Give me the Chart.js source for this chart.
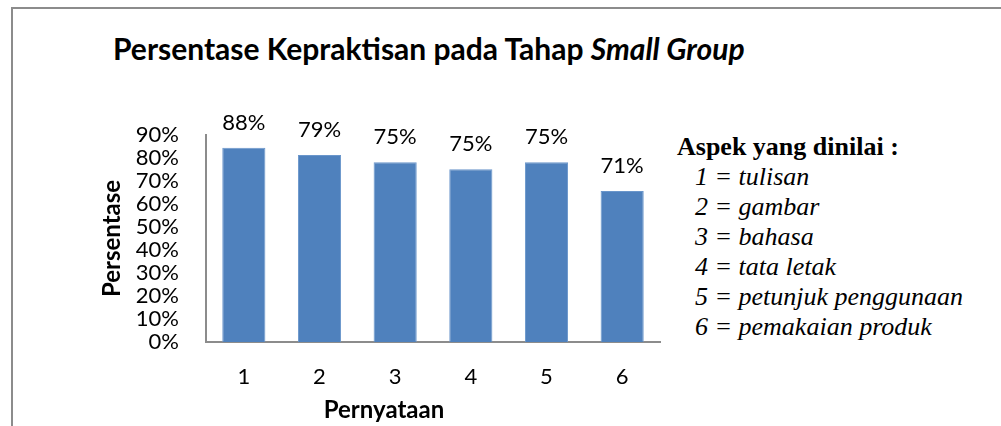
<!DOCTYPE html>
<html>
<head>
<meta charset="utf-8">
<script src="https://cdn.jsdelivr.net/npm/chart.js@4.4.1/dist/chart.umd.min.js"></script>
<style>
    html, body { margin: 0; padding: 0; background: #fff; }
    #wrap { position: relative; width: 1001px; height: 426px; overflow: hidden; }
    #frame { position: absolute; left: 11px; top: 7px; width: 1000px; height: 430px;
             border-left: 2px solid #8c8c8c; border-top: 2px solid #8c8c8c; }
    #title { position: absolute; left: 113px; top: 33px; font: bold 30px Lato, sans-serif;
             line-height: 30px; white-space: nowrap; color: #000; }
    #xtitle { position: absolute; left: 284px; width: 200px; top: 397px; text-align: center;
              font: bold 24px Lato, sans-serif; line-height: 24px; color: #000; }
    #aspek { position: absolute; left: 677px; top: 132px; font-family: "Liberation Serif", serif;
             font-size: 26px; line-height: 30px; color: #000; white-space: nowrap; }
    #aspek .head { font-weight: bold; }
    #aspek .item { font-style: italic; padding-left: 18px; }
    canvas { position: absolute; left: 0; top: 0; }
</style>
</head>
<body>
<div id="wrap">
    <div id="frame"></div>
    <div id="title">Persentase Kepraktisan pada Tahap <i>Small Group</i></div>
    <div id="aspek"></div>
    <canvas id="chart" width="1001" height="426"></canvas>
    <div id="xtitle">Pernyataan</div>
</div>
<script>
    // data
    const categories = ['1', '2', '3', '4', '5', '6'];
    const barValues = [84.5, 81.3, 78.1, 75.1, 78.1, 65.7]; // bar heights (%)
    const barLabels = ['88%', '79%', '75%', '75%', '75%', '71%']; // labels printed above bars
    const yTicks = [0, 10, 20, 30, 40, 50, 60, 70, 80, 90];
    const aspekTitle = 'Aspek yang dinilai :';
    const aspekItems = ['tulisan', 'gambar', 'bahasa', 'tata letak', 'petunjuk penggunaan', 'pemakaian produk'];

    // legend text on the right
    const aspekBox = document.getElementById('aspek');
    const head = document.createElement('div');
    head.className = 'head';
    head.textContent = aspekTitle;
    aspekBox.appendChild(head);
    aspekItems.forEach((txt, i) => {
        const item = document.createElement('div');
        item.className = 'item';
        item.textContent = categories[i] + ' = ' + txt;
        aspekBox.appendChild(item);
    });

    // labels above each bar
    const barLabelPlugin = {
        id: 'barLabels',
        afterDatasetsDraw(chart) {
            const ctx = chart.ctx;
            const meta = chart.getDatasetMeta(0);
            ctx.save();
            ctx.font = '22px Lato';
            ctx.fillStyle = '#000';
            ctx.textAlign = 'center';
            ctx.textBaseline = 'middle';
            meta.data.forEach((bar, i) => {
                ctx.fillText(barLabels[i], bar.x, bar.y - 25);
            });
            ctx.restore();
        }
    };

    const ctx = document.getElementById('chart').getContext('2d');
    new Chart(ctx, {
        type: 'bar',
        data: {
            labels: categories,
            datasets: [{
                data: barValues,
                backgroundColor: '#4F81BD',
                borderColor: '#6A96CB',
                borderWidth: 1,
                categoryPercentage: 1,
                barPercentage: 0.57
            }]
        },
        options: {
            responsive: false,
            animation: false,
            layout: { padding: { left: 95, top: 135, right: 341, bottom: 0 } },
            plugins: {
                legend: { display: false },
                tooltip: { enabled: false },
                title: { display: false }
            },
            scales: {
                x: {
                    grid: { display: false, drawTicks: false },
                    border: { display: true, color: '#8c8c8c', width: 2 },
                    ticks: { color: '#000', font: { family: 'Lato', size: 22 }, padding: 22 },
                    afterFit(scale) { scale.height = 84; }
                },
                y: {
                    min: 0,
                    max: 90,
                    grid: { display: false, drawTicks: false },
                    border: { display: true, color: '#8c8c8c', width: 2 },
                    afterBuildTicks(scale) { scale.ticks = yTicks.map(v => ({ value: v })); },
                    ticks: { autoSkip: false, color: '#000', font: { family: 'Lato', size: 22 }, padding: 27,
                             callback: v => v + '%' },
                    title: { display: true, text: 'Persentase', color: '#000',
                             font: { family: 'Lato', size: 24, weight: 'bold' }, padding: { top: 3, bottom: 0 } },
                    afterFit(scale) { scale.width = 111; }
                }
            }
        },
        plugins: [barLabelPlugin]
    });
</script>
</body>
</html>
